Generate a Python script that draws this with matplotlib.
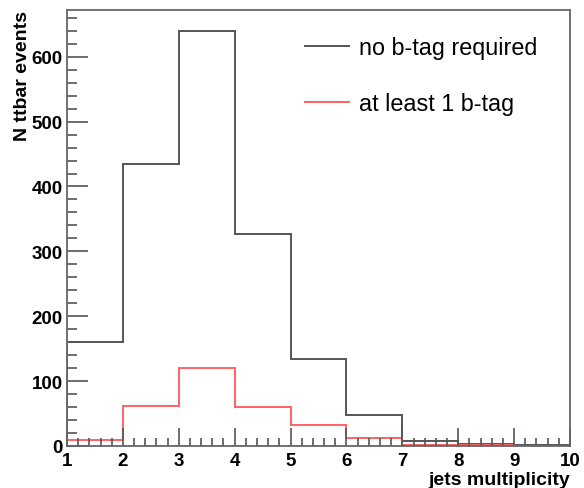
import numpy as np
import matplotlib
matplotlib.use("Agg")
import matplotlib.pyplot as plt
from matplotlib.ticker import MultipleLocator

# Jet multiplicity bins (edges 1..10)
bin_edges = [1, 2, 3, 4, 5, 6, 7, 8, 9, 10]
no_btag = [161, 434, 640, 326, 134, 48, 8, 3, 1]
one_btag = [10, 62, 120, 60, 32, 13, 2, 1, 0]

labels = ["no b-tag required", "at least 1 b-tag"]

plt.rcParams["font.family"] = ["Liberation Sans", "DejaVu Sans"]

fig = plt.figure(figsize=(5.84, 4.89), dpi=100)
ax = fig.add_axes([67 / 584, 42 / 489, 503 / 584, 436 / 489])

ax.stairs(no_btag, bin_edges, color="#555555", lw=1.4, label=labels[0])
ax.stairs(one_btag, bin_edges, color="#ff6262", lw=1.4, label=labels[1])

ax.set_xlim(1, 10)
ax.set_ylim(0, max(no_btag) * 1.05)

ax.xaxis.set_major_locator(MultipleLocator(1))
ax.xaxis.set_minor_locator(MultipleLocator(0.2))
ax.yaxis.set_major_locator(MultipleLocator(100))
ax.yaxis.set_minor_locator(MultipleLocator(20))

ax.tick_params(axis="both", which="both", direction="in", top=False, right=False,
               color="#555555", width=1.2)
ax.tick_params(axis="x", which="major", length=13, pad=4)
ax.tick_params(axis="x", which="minor", length=6)
ax.tick_params(axis="y", which="major", length=15, pad=3)
ax.tick_params(axis="y", which="minor", length=7)

for lbl in ax.get_xticklabels() + ax.get_yticklabels():
    lbl.set_fontweight("bold")
    lbl.set_fontsize(13.5)

for sp in ax.spines.values():
    sp.set_color("#666666")
    sp.set_linewidth(1.3)

ax.set_xlabel("jets multiplicity", fontsize=14, fontweight="bold")
ax.xaxis.set_label_coords(1.0, -0.088)
ax.xaxis.label.set_horizontalalignment("right")
ax.xaxis.label.set_verticalalignment("baseline")

ax.set_ylabel("N ttbar events", fontsize=14, fontweight="bold")
ax.yaxis.set_label_coords(-0.072, 1.0)
ax.yaxis.label.set_horizontalalignment("right")

ax.legend(loc="upper left", bbox_to_anchor=(0.4545, 0.962), frameon=False,
          fontsize=16.8, handlelength=1.9, handletextpad=0.43, labelspacing=1.42,
          borderaxespad=0)

fig.savefig("out.png", dpi=100)
